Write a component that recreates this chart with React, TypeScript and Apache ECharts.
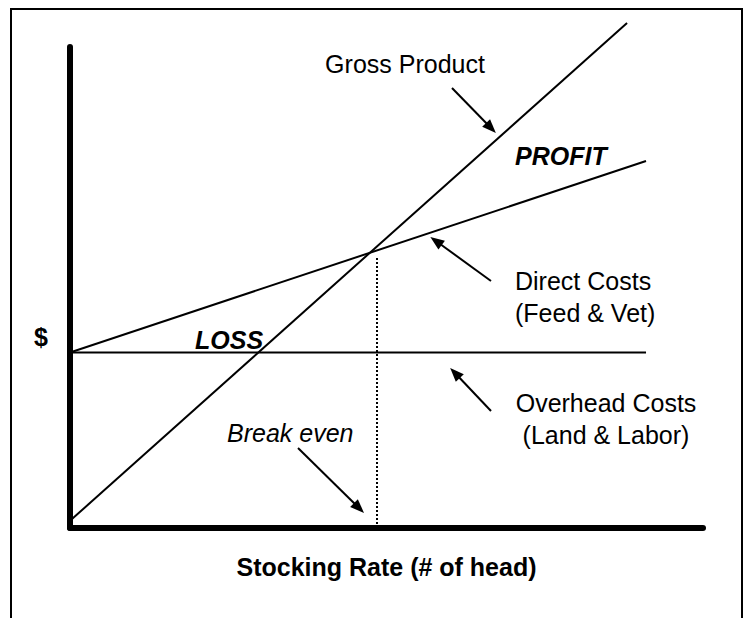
import React, { useEffect, useRef } from "react";
import * as echarts from "echarts";

// Stocking rate (x) vs dollars ($, y) — schematic break-even chart
const grossProduct: [number, number][] = [[0, 1.5], [88, 105]];
const directCosts: [number, number][] = [[0, 36.5], [91, 76.3]];
const overheadCosts: [number, number][] = [[0, 36.5], [91, 36.5]];
const breakEven: [number, number][] = [[48.5, 0], [48.5, 56.5]];

const xAxisTitle = "Stocking Rate (# of head)";
const yAxisTitle = "$";

const FONT = "'Liberation Sans', Arial, sans-serif";

export default function App() {
  const ref = useRef<HTMLDivElement>(null);
  useEffect(() => {
    if (!ref.current) return;
    const chart = echarts.init(ref.current, null, { renderer: "svg" });
    const lineSeries = (name: string, data: [number, number][], extra: any = {}) => ({
      type: "line",
      name,
      data,
      symbol: "none",
      showSymbol: false,
      clip: false,
      silent: true,
      lineStyle: { color: "#000", width: 2, ...extra },
    });
    const arrow = (x1: number, y1: number, x2: number, y2: number) => [
      { x: x1, y: y1 },
      { x: x2, y: y2 },
    ];
    const txt = (text: string, x: number, y: number, opts: any = {}) => ({
      type: "text",
      x,
      y,
      silent: true,
      style: {
        text,
        fill: "#000",
        font: `${opts.style || "normal"} ${opts.weight || "normal"} 25px ${FONT}`,
        textAlign: opts.align || "left",
        textVerticalAlign: "middle",
      },
    });
    chart.setOption({
      animation: false,
      backgroundColor: "#fff",
      grid: { left: 70, right: 40, top: 47, bottom: 90, outerBoundsMode: "none" },
      xAxis: {
        type: "value",
        min: 0,
        max: 100,
        name: xAxisTitle,
        nameLocation: "middle",
        nameGap: 26,
        nameTextStyle: { fontFamily: FONT, fontSize: 25, fontWeight: "bold", color: "#000" },
        axisLine: { show: true, lineStyle: { color: "#000", width: 6 } },
        axisTick: { show: false },
        axisLabel: { show: false },
        splitLine: { show: false },
      },
      yAxis: {
        type: "value",
        min: 0,
        max: 100,
        axisLine: { show: true, lineStyle: { color: "#000", width: 6 } },
        axisTick: { show: false },
        axisLabel: { show: false },
        splitLine: { show: false },
      },
      series: [
        lineSeries("Gross Product", grossProduct),
        lineSeries("Direct Costs", directCosts),
        lineSeries("Overhead Costs", overheadCosts),
        {
          ...lineSeries("Break even", breakEven, { width: 2, type: [2, 2] }),
          markLine: {
            silent: true,
            symbol: ["none", "triangle"],
            symbolSize: [11, 14],
            label: { show: false },
            lineStyle: { color: "#000", width: 2, type: "solid" },
            data: [
              arrow(452, 88, 491, 128),
              arrow(491, 281, 436, 241),
              arrow(491, 411, 455, 373),
              arrow(298, 448, 359, 508),
            ],
          },
        },
      ],
      graphic: [
        {
          type: "rect",
          silent: true,
          shape: { x: 11, y: 9, width: 731, height: 700 },
          style: { fill: "none", stroke: "#000", lineWidth: 2 },
        },
        txt("Gross Product", 405, 64, { align: "center" }),
        txt("PROFIT", 515, 156, { style: "italic", weight: "bold" }),
        txt("Direct Costs", 515, 281),
        txt("(Feed & Vet)", 515, 313),
        txt("Overhead Costs", 606, 403, { align: "center" }),
        txt("(Land & Labor)", 606, 435, { align: "center" }),
        txt("Break even", 227, 433, { style: "italic" }),
        txt("LOSS", 195, 340, { style: "italic", weight: "bold" }),
        txt(yAxisTitle, 41, 337, { align: "center", weight: "bold" }),
      ],
    });
    return () => chart.dispose();
  }, []);
  return (
    <div
      ref={ref}
      style={{ position: "absolute", left: 0, top: 0, width: 743, height: 618 }}
    />
  );
}
